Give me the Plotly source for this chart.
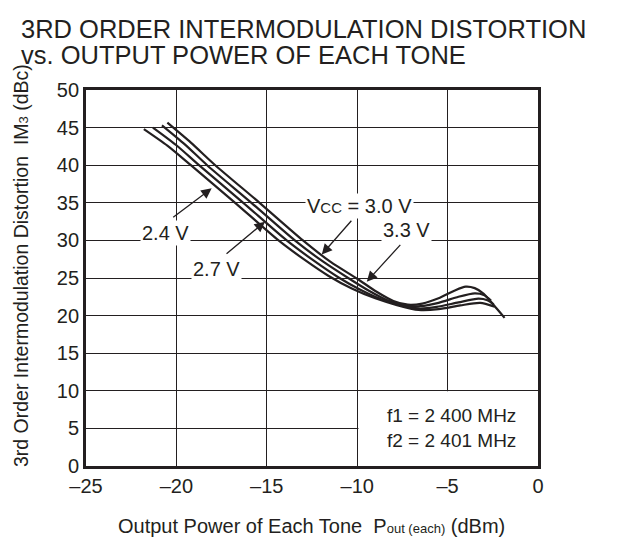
import plotly.graph_objects as go

# IM3 vs. output power per tone, one curve per supply voltage
vcc_labels = ["2.4 V", "2.7 V", "3.0 V", "3.3 V"]

pout_24 = [-21.8, -20.5, -19.2, -16.75, -14.35, -12.9, -11.6, -10.3, -9.0, -7.8,
           -6.6, -5.5, -4.3, -3.2, -2.4]
im3_24 = [44.8, 42.6, 40.0, 35.0, 30.0, 27.4, 25.3, 23.6, 22.3, 21.4,
          20.75, 20.85, 21.35, 21.7, 21.2]

pout_27 = [-21.3, -20.0, -18.75, -16.3, -13.9, -12.4, -11.05, -9.8, -8.6, -7.5,
           -6.6, -5.6, -4.4, -3.3, -2.8, -2.45]
im3_27 = [45.0, 42.65, 40.0, 35.0, 30.0, 27.3, 25.1, 23.4, 22.1, 21.3,
          20.95, 21.15, 21.75, 22.25, 22.05, 21.5]

pout_30 = [-20.8, -19.55, -18.3, -15.85, -13.45, -11.9, -10.5, -9.35, -8.3, -7.4,
           -6.5, -5.5, -4.4, -3.5, -3.0, -2.6]
im3_30 = [45.3, 42.8, 40.0, 35.0, 30.0, 27.2, 25.0, 23.3, 22.0, 21.35,
          21.25, 21.7, 22.5, 22.95, 22.75, 22.0]

pout_33 = [-20.5, -19.2, -17.85, -15.4, -13.0, -11.45, -10.0, -8.95, -8.0, -7.2,
           -6.4, -5.5, -4.6, -4.0, -3.5, -3.0, -2.45, -1.85]
im3_33 = [45.65, 43.0, 40.0, 35.0, 30.0, 27.1, 24.9, 23.2, 21.95, 21.45,
          21.6, 22.3, 23.35, 23.85, 23.65, 22.9, 21.4, 19.7]

x_ticks = [-25, -20, -15, -10, -5, 0]
x_tick_text = ["\u201325", "\u201320", "\u201315", "\u201310", "\u20135", "0"]
y_ticks = [0, 5, 10, 15, 20, 25, 30, 35, 40, 45, 50]

FONT = "Liberation Sans, Arial, Helvetica, sans-serif"
INK = "#231f20"

# plot area in pixels, used to place paper-referenced text
L, R, T, B = 86, 538, 90, 466
W, H = R - L, B - T


def px(xp):
    return (xp - L) / W


def py(yp):
    return (B - yp) / H


fig = go.Figure()
for xs, ys, name in zip([pout_24, pout_27, pout_30, pout_33],
                        [im3_24, im3_27, im3_30, im3_33], vcc_labels):
    fig.add_trace(go.Scatter(
        x=xs, y=ys, mode="lines", name=name,
        line=dict(color=INK, width=2.2, shape="spline", smoothing=0.7),
        showlegend=False, hoverinfo="skip",
    ))

# white panel behind the frequency note (hides the grid there)
fig.add_shape(type="rect", xref="x", yref="y", x0=-9.93, x1=0, y0=0, y1=9.93,
              fillcolor="white", line=dict(width=0), layer="between")

# curve labels
label_font = dict(family=FONT, size=20, color=INK)
labels = [
    ("2.4 V", -20.63, 30.92),
    ("2.7 V", -17.81, 26.26),
    ("V<span style='font-size:15px'>CC</span> = 3.0 V", -9.85, 34.55),
    ("3.3 V", -7.26, 31.32),
]
for text, lx, ly in labels:
    fig.add_annotation(x=lx, y=ly, xref="x", yref="y", text=text, showarrow=False,
                       font=label_font, bgcolor="white", borderpad=1)

# arrows: (tail x, tail y, tip x, tip y)
arrows = [
    (-20.26, 32.94, -18.05, 36.93),
    (-17.31, 28.06, -15.10, 32.49),
    (-10.25, 32.81, -11.96, 28.12),
    (-7.54, 29.61, -9.47, 24.51),
]
for tx, ty, hx, hy in arrows:
    fig.add_annotation(x=hx, y=hy, ax=tx, ay=ty, xref="x", yref="y", axref="x", ayref="y",
                       text="", showarrow=True, arrowhead=2, arrowsize=1.6,
                       arrowwidth=1.3, arrowcolor=INK)

fig.add_annotation(x=-4.77, y=5.05, xref="x", yref="y", showarrow=False,
                   text="f1 = 2 400 MHz<br>f2 = 2 401 MHz",
                   font=dict(family=FONT, size=19, color=INK), align="center")

# chart title (two lines, tight leading)
fig.add_annotation(x=px(19), y=py(29), xref="paper", yref="paper",
                   xanchor="left", yanchor="middle", showarrow=False,
                   text="3RD ORDER INTERMODULATION DISTORTION",
                   font=dict(family=FONT, size=25.5, color=INK))
fig.add_annotation(x=px(19), y=py(55), xref="paper", yref="paper",
                   xanchor="left", yanchor="middle", showarrow=False,
                   text="vs. OUTPUT POWER OF EACH TONE",
                   font=dict(family=FONT, size=25.5, color=INK))

# axis titles
fig.add_annotation(x=px(311), y=py(526), xref="paper", yref="paper",
                   xanchor="center", yanchor="middle", showarrow=False,
                   text="Output Power of Each Tone  P<span style='font-size:13px'>out (each)</span> (dBm)",
                   font=dict(family=FONT, size=20, color=INK))
fig.add_annotation(x=px(21), y=py(266), xref="paper", yref="paper",
                   xanchor="center", yanchor="middle", showarrow=False, textangle=-90,
                   text="3rd Order Intermodulation Distortion  IM<span style='font-size:13px'>3</span> (dBc)",
                   font=dict(family=FONT, size=19.5, color=INK))

axis_common = dict(
    showgrid=True, gridcolor=INK, gridwidth=1.3,
    showline=True, linecolor=INK, linewidth=2.8, mirror=True,
    ticks="", zeroline=False,
    tickfont=dict(family=FONT, size=20, color=INK),
)
fig.update_xaxes(range=[-25, 0], tickvals=x_ticks, ticktext=x_tick_text, **axis_common)
fig.update_yaxes(range=[0, 50], tickvals=y_ticks, **axis_common)

fig.update_layout(
    width=623, height=540,
    margin=dict(l=L, r=623 - R, t=T, b=540 - B),
    paper_bgcolor="white", plot_bgcolor="white",
    font=dict(family=FONT, color=INK),
)

fig.write_html("out.html")
